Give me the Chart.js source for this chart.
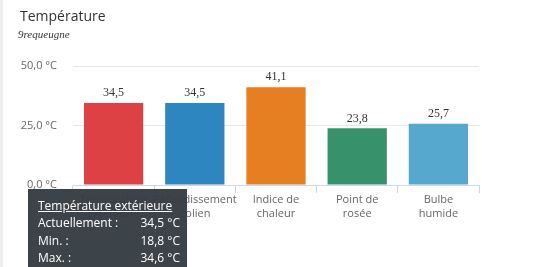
<!DOCTYPE html>
<html>
<head>
<meta charset="utf-8">
<script src="https://cdn.jsdelivr.net/npm/chart.js@4"></script>
<style>
    body { margin: 0; background: #fff; }
    #wrap { position: relative; width: 540px; height: 267px; overflow: hidden; border-left: 3px solid #eeeeee; box-sizing: border-box; }
    #chart { position: absolute; left: -3px; top: 0; }
    .title { position: absolute; left: 17px; top: 6px; font: 14px "Open Sans", sans-serif; color: #333; }
    .subtitle { position: absolute; left: 15px; top: 28px; font: italic 11px "Liberation Serif", serif; color: #333; }
    .tip { position: absolute; left: 25px; top: 189px; width: 159px; height: 90px; background: rgba(52, 60, 66, 0.96);
           color: #fff; font: 12px "Open Sans", sans-serif; box-sizing: border-box; padding: 8px 7px 0 10px; }
    .tip .head { text-decoration: underline; line-height: 17px; }
    .tip .row { display: flex; justify-content: space-between; line-height: 17.5px; }
</style>
</head>
<body>
<div id="wrap">
    <canvas id="chart" width="540" height="267"></canvas>
    <div class="title">Température</div>
    <div class="subtitle">9requeugne</div>
    <div class="tip">
        <div class="head">Température extérieure</div>
        <div class="row"><span>Actuellement :</span><span>34,5 °C</span></div>
        <div class="row"><span>Min. :</span><span>18,8 °C</span></div>
        <div class="row"><span>Max. :</span><span>34,6 °C</span></div>
    </div>
</div>
<script>
const categories = ['Température extérieure', 'Refroidissement éolien', 'Indice de chaleur', 'Point de rosée', 'Bulbe humide'];
const values = [34.5, 34.5, 41.1, 23.8, 25.7];
const barColors = ['#dd4143', '#2e86c1', '#e67e22', '#37926c', '#56a8cf'];
const yTicks = [0, 25, 50];

const fmt = v => v.toFixed(1).replace('.', ',');

// two-line labels, split at the last space
const splitLabel = s => {
    const i = s.lastIndexOf(' ');
    return i < 0 ? s : [s.slice(0, i), s.slice(i + 1)];
};

const valueLabels = {
    id: 'valueLabels',
    afterDatasetsDraw(chart) {
        const ctx = chart.ctx;
        const meta = chart.getDatasetMeta(0);
        ctx.save();
        ctx.font = '12px "Liberation Serif", serif';
        ctx.fillStyle = '#333';
        ctx.textAlign = 'center';
        ctx.textBaseline = 'bottom';
        meta.data.forEach((bar, i) => {
            ctx.fillText(fmt(values[i]), bar.x, bar.y - 4);
        });
        ctx.restore();
    }
};

new Chart(document.getElementById('chart'), {
    type: 'bar',
    data: {
        labels: categories,
        datasets: [{
            data: values,
            backgroundColor: barColors,
            barPercentage: 0.73,
            categoryPercentage: 1
        }]
    },
    options: {
        responsive: false,
        animation: false,
        layout: { padding: { top: 66, right: 61, bottom: 0, left: 0 } },
        plugins: { legend: { display: false }, tooltip: { enabled: false } },
        scales: {
            x: {
                afterFit: s => { s.height = 82; },
                grid: { drawOnChartArea: false, color: '#ccd6eb', tickLength: 8, offset: true },
                border: { color: '#ccd6eb' },
                ticks: {
                    padding: -1,
                    color: '#666',
                    font: { family: 'Open Sans', size: 11, lineHeight: 1.35 },
                    maxRotation: 0,
                    autoSkip: false,
                    callback: (v, i) => splitLabel(categories[i])
                }
            },
            y: {
                min: 0,
                max: 50,
                afterFit: s => { s.width = 73; },
                afterBuildTicks: s => { s.ticks = yTicks.map(v => ({ value: v })); },
                grid: { color: '#e6e6e6', drawTicks: false },
                border: { display: false },
                ticks: {
                    padding: 16,
                    color: '#666',
                    font: { family: 'Open Sans', size: 11 },
                    callback: v => fmt(v) + ' °C'
                }
            }
        }
    },
    plugins: [valueLabels]
});
</script>
</body>
</html>
